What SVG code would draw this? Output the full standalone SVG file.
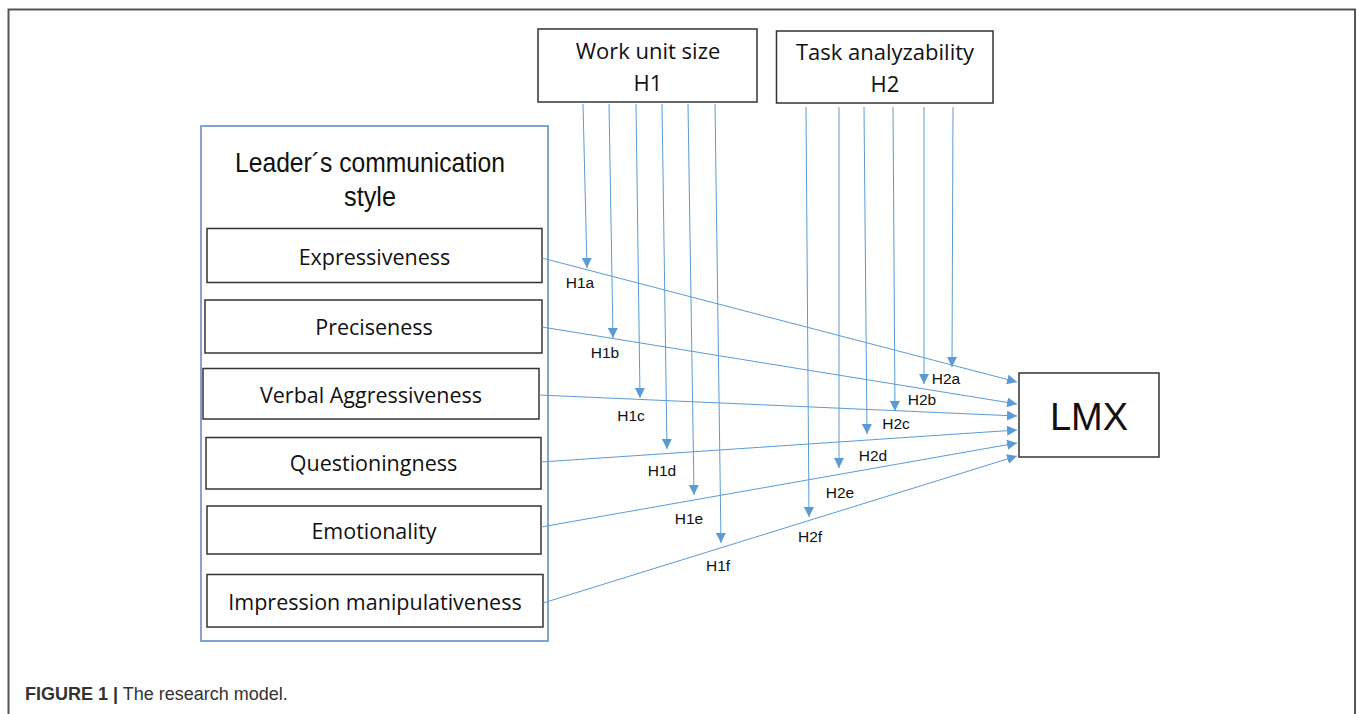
<svg xmlns="http://www.w3.org/2000/svg" width="1358" height="714" viewBox="0 0 1358 714">
<style>
.frame{fill:none;stroke:#555;stroke-width:2}
.box{fill:#fff;stroke:#333;stroke-width:1.5}
.group{fill:none;stroke:#5A86BD;stroke-width:1.5}
.lbl{font-family:"Open Sans",sans-serif;font-size:21.5px;fill:#111;text-anchor:middle}
.top{font-family:"Open Sans",sans-serif;font-size:22px;fill:#111;text-anchor:middle}
.h{font-family:"Liberation Sans",Arial,sans-serif;font-size:15.5px;fill:#111;text-anchor:middle}
.conn{stroke:#5B9BD5;stroke-width:1;fill:none;marker-end:url(#ah)}
.cap{font-family:"Liberation Sans",Arial,sans-serif;font-size:18px;fill:#333}
</style>
<defs>
<marker id="ah" viewBox="0 0 10 10" refX="10" refY="5" markerWidth="10" markerHeight="10" markerUnits="userSpaceOnUse" orient="auto">
<path d="M0,0 L10,5 L0,10 z" fill="#5B9BD5"/>
</marker>
</defs>
<rect width="1358" height="714" fill="#fff"/>
<path class="frame" d="M8.5,714 V9.5 H1355 V714"/>

<g id="leader-style">
<rect class="group" x="201" y="126" width="347" height="515"/>
<text x="370" y="172" font-family="Liberation Sans, Arial, sans-serif" font-size="28" fill="#111" text-anchor="middle" textLength="270" lengthAdjust="spacingAndGlyphs">Leader´s communication</text>
<text x="370" y="206" font-family="Liberation Sans, Arial, sans-serif" font-size="28" fill="#111" text-anchor="middle" textLength="52" lengthAdjust="spacingAndGlyphs">style</text>
</g>
<g id="expressiveness"><rect class="box" x="207" y="228.5" width="335" height="54"/><text class="lbl" x="374.5" y="265">Expressiveness</text></g>
<g id="preciseness"><rect class="box" x="205" y="300" width="337" height="53"/><text class="lbl" x="374" y="335">Preciseness</text></g>
<g id="verbal-aggressiveness"><rect class="box" x="203" y="368.5" width="336" height="50.5"/><text class="lbl" x="371" y="403">Verbal Aggressiveness</text></g>
<g id="questioningness"><rect class="box" x="206" y="437.5" width="335" height="51.5"/><text class="lbl" x="373.5" y="471">Questioningness</text></g>
<g id="emotionality"><rect class="box" x="207" y="506" width="334" height="48"/><text class="lbl" x="374" y="539">Emotionality</text></g>
<g id="impression-manipulativeness"><rect class="box" x="207" y="574.5" width="336" height="52.5"/><text class="lbl" x="375" y="610">Impression manipulativeness</text></g>

<g id="work-unit-size"><rect class="box" x="538" y="29" width="219" height="73"/><text class="top" x="648" y="59">Work unit size</text><text class="top" x="648" y="91">H1</text></g>
<g id="task-analyzability"><rect class="box" x="776.5" y="31" width="216.5" height="72"/><text class="top" x="885" y="60">Task analyzability</text><text class="top" x="885" y="92">H2</text></g>
<g id="lmx"><rect class="box" x="1019" y="373" width="140" height="84"/><text x="1089" y="430" font-family="Liberation Sans, Arial, sans-serif" font-size="38" fill="#111" text-anchor="middle">LMX</text></g>

<g id="connectors">
<line class="conn" x1="542" y1="258" x2="1017" y2="382"/>
<line class="conn" x1="542" y1="327" x2="1017" y2="404"/>
<line class="conn" x1="539" y1="395" x2="1017" y2="416"/>
<line class="conn" x1="541" y1="462" x2="1017" y2="430"/>
<line class="conn" x1="541" y1="527" x2="1017" y2="443"/>
<line class="conn" x1="543" y1="603" x2="1017" y2="456"/>
<line class="conn" x1="583" y1="104" x2="587" y2="268"/>
<line class="conn" x1="609" y1="104" x2="613" y2="338"/>
<line class="conn" x1="636" y1="104" x2="640" y2="398"/>
<line class="conn" x1="662" y1="104" x2="667" y2="449"/>
<line class="conn" x1="688" y1="104" x2="694" y2="495"/>
<line class="conn" x1="715" y1="104" x2="721" y2="543"/>
<line class="conn" x1="806" y1="107" x2="809" y2="517"/>
<line class="conn" x1="839" y1="107" x2="839" y2="468"/>
<line class="conn" x1="864" y1="107" x2="867" y2="434"/>
<line class="conn" x1="893" y1="107" x2="895" y2="411"/>
<line class="conn" x1="924" y1="107" x2="924" y2="384"/>
<line class="conn" x1="953" y1="107" x2="952" y2="367"/>
</g>
<g id="labels">
<text class="h" x="580" y="288">H1a</text>
<text class="h" x="605" y="358">H1b</text>
<text class="h" x="631" y="421">H1c</text>
<text class="h" x="662" y="476">H1d</text>
<text class="h" x="689" y="524">H1e</text>
<text class="h" x="718" y="571">H1f</text>
<text class="h" x="946" y="384">H2a</text>
<text class="h" x="922" y="405">H2b</text>
<text class="h" x="896" y="429">H2c</text>
<text class="h" x="873" y="461">H2d</text>
<text class="h" x="840" y="498">H2e</text>
<text class="h" x="810" y="542">H2f</text>
</g>
<text class="cap" x="25" y="700"><tspan font-weight="bold">FIGURE 1 |</tspan> The research model.</text>
</svg>
